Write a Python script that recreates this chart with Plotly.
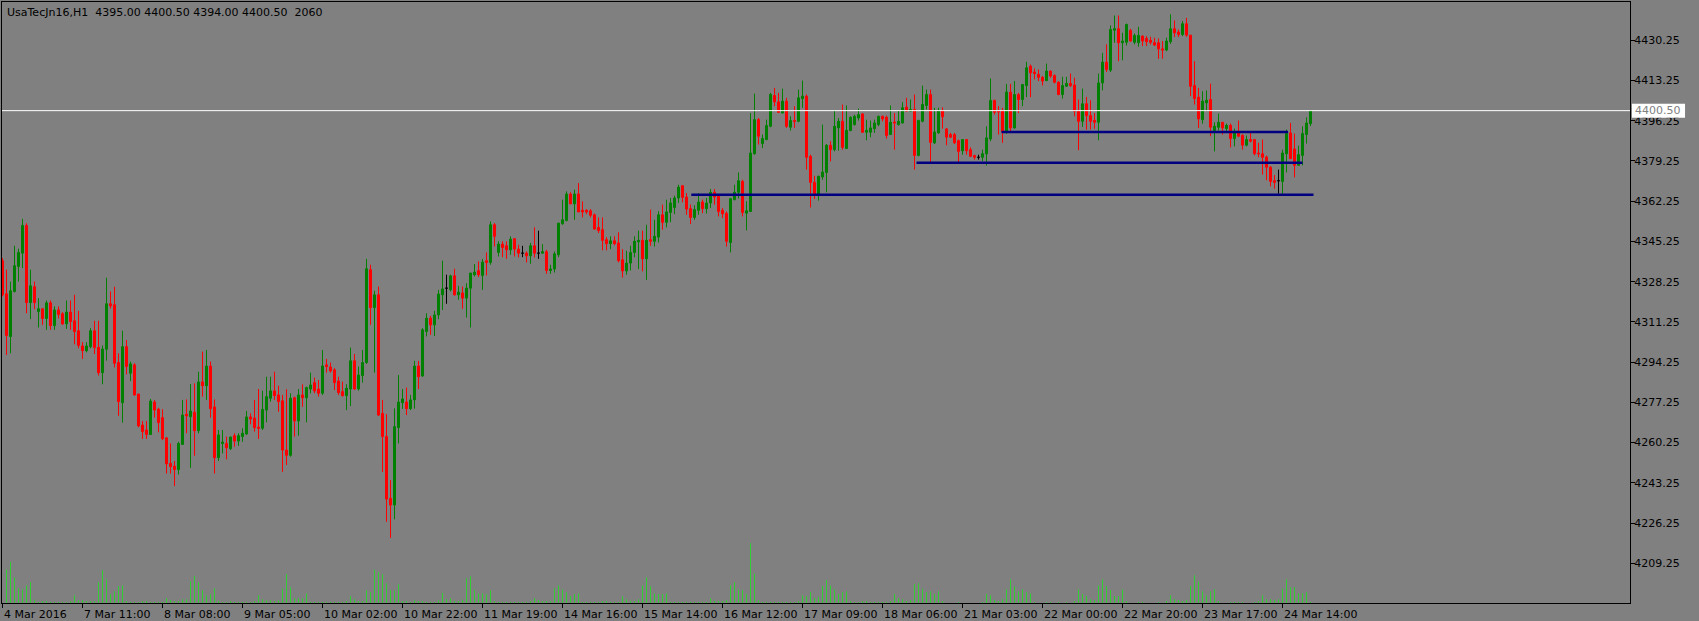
import plotly.graph_objects as go

symbol = "UsaTecJn16,H1"
last_tick_volume = "2060"

open_ = [
    4337.1, 4323.1, 4305.1, 4324.1, 4334.7, 4340.3, 4352.0, 4319.4, 4326.1, 4315.6,
    4316.8, 4312.7, 4319.3, 4309.7, 4316.3, 4314.7, 4310.4, 4315.4, 4311.7, 4307.5,
    4301.1, 4299.1, 4300.8, 4307.5, 4300.5, 4289.8, 4299.7, 4318.9, 4318.5, 4294.1,
    4277.1, 4300.8, 4289.6, 4293.1, 4280.8, 4267.7, 4265.6, 4263.7, 4277.4, 4274.4,
    4270.8, 4262.3, 4251.5, 4250.3, 4248.9, 4259.5, 4272.2, 4271.2, 4273.1, 4265.3,
    4285.9, 4284.3, 4292.6, 4275.3, 4253.9, 4259.9, 4259.9, 4257.7, 4263.2, 4260.9,
    4262.8, 4263.9, 4271.1, 4270.6, 4266.8, 4266.3, 4274.0, 4279.0, 4282.1, 4280.4,
    4277.9, 4257.1, 4254.9, 4279.2, 4269.4, 4280.4, 4279.2, 4282.9, 4285.6, 4282.9,
    4281.1, 4293.1, 4292.2, 4291.0, 4286.3, 4281.8, 4280.1, 4282.9, 4294.8, 4282.9,
    4288.6, 4294.1, 4333.3, 4317.3, 4322.7, 4272.6, 4262.8, 4236.7, 4233.9, 4266.6,
    4277.1, 4277.4, 4274.6, 4278.3, 4292.6, 4288.4, 4307.2, 4312.8, 4310.0, 4314.2,
    4322.7, 4325.5, 4324.8, 4330.7, 4322.7, 4323.5, 4321.3, 4325.5, 4331.2, 4332.9,
    4330.9, 4337.1, 4336.4, 4352.3, 4340.6, 4344.1, 4343.4, 4341.7, 4346.4, 4342.0,
    4340.3, 4340.3, 4339.2, 4343.4, 4340.3, 4340.3, 4340.9, 4333.0, 4333.6, 4339.6,
    4352.7, 4354.1, 4365.3, 4361.1, 4365.3, 4358.4, 4358.4, 4358.2, 4356.5, 4351.2,
    4350.2, 4346.0, 4344.3, 4345.5, 4344.6, 4337.5, 4332.8, 4336.1, 4340.6, 4345.1,
    4345.7, 4337.9, 4346.0, 4345.3, 4347.1, 4356.5, 4353.3, 4357.5, 4359.6, 4363.6,
    4368.8, 4364.0, 4359.1, 4355.4, 4358.4, 4361.9, 4359.1, 4361.5, 4366.0, 4364.3,
    4358.4, 4357.1, 4344.8, 4362.9, 4366.0, 4370.6, 4357.2, 4357.9, 4382.3, 4396.7,
    4386.6, 4388.3, 4393.9, 4406.9, 4404.2, 4399.5, 4404.5, 4393.5, 4396.3, 4396.0,
    4405.6, 4406.6, 4381.2, 4370.2, 4365.3, 4372.5, 4374.4, 4385.9, 4384.0, 4393.2,
    4396.0, 4384.5, 4392.1, 4394.6, 4397.4, 4399.1, 4391.4, 4391.4, 4392.9, 4394.6,
    4398.1, 4397.7, 4390.4, 4395.7, 4394.6, 4395.3, 4402.0, 4400.3, 4401.0, 4381.6,
    4396.0, 4402.7, 4407.3, 4386.9, 4391.1, 4400.5, 4392.8, 4390.4, 4390.4, 4387.8,
    4383.6, 4388.3, 4384.0, 4381.5, 4380.8, 4380.8, 4382.2, 4388.5, 4404.8, 4400.3,
    4400.5, 4391.5, 4408.3, 4393.2, 4407.3, 4405.2, 4411.1, 4419.3, 4416.8, 4415.8,
    4414.6, 4413.2, 4417.2, 4415.3, 4412.5, 4407.3, 4410.8, 4412.0, 4411.3, 4400.3,
    4396.0, 4403.4, 4398.4, 4396.4, 4395.6, 4412.2, 4421.0, 4417.6, 4434.5, 4435.1,
    4429.2, 4429.4, 4434.4, 4429.4, 4429.2, 4432.0, 4431.0, 4430.2, 4429.2, 4429.2,
    4426.6, 4426.1, 4429.6, 4435.1, 4433.7, 4432.7, 4437.2, 4432.4, 4411.1, 4406.2,
    4396.7, 4403.8, 4405.2, 4392.1, 4393.5, 4395.6, 4392.9, 4394.3, 4388.7, 4391.4,
    4390.1, 4385.9, 4388.3, 4388.3, 4382.6, 4382.3, 4380.9, 4376.6, 4370.9, 4370.9,
    4370.6, 4382.3, 4391.1, 4384.3, 4377.4, 4381.6, 4390.4, 4395.0,
]

high = [
    4338.2, 4333.3, 4328.3, 4343.4, 4342.2, 4354.8, 4352.9, 4333.3, 4328.3, 4321.3,
    4316.8, 4320.3, 4320.3, 4317.8, 4317.8, 4315.4, 4320.3, 4320.3, 4322.7, 4315.9,
    4302.7, 4302.7, 4308.6, 4311.7, 4311.7, 4301.3, 4329.9, 4324.1, 4326.1, 4298.0,
    4307.5, 4303.6, 4294.5, 4293.8, 4280.8, 4269.4, 4269.4, 4278.7, 4278.3, 4275.0,
    4274.4, 4262.3, 4259.9, 4252.5, 4260.6, 4278.3, 4278.5, 4285.0, 4285.3, 4290.2,
    4298.7, 4299.4, 4294.5, 4278.5, 4265.6, 4265.6, 4262.8, 4262.8, 4264.2, 4264.2,
    4266.3, 4273.6, 4272.6, 4278.3, 4282.9, 4282.2, 4288.1, 4288.1, 4290.2, 4284.3,
    4280.4, 4282.8, 4281.1, 4279.7, 4282.9, 4284.9, 4283.9, 4289.8, 4287.7, 4286.7,
    4299.4, 4295.6, 4294.1, 4291.7, 4288.1, 4286.0, 4284.9, 4300.4, 4297.7, 4292.4,
    4299.4, 4337.9, 4335.4, 4324.4, 4326.2, 4278.3, 4272.3, 4244.4, 4274.7, 4288.8,
    4282.9, 4283.5, 4280.4, 4294.8, 4294.8, 4308.6, 4314.9, 4313.8, 4315.9, 4324.8,
    4337.1, 4331.2, 4331.2, 4333.7, 4326.5, 4326.2, 4327.6, 4331.9, 4335.7, 4336.8,
    4337.8, 4340.6, 4353.7, 4353.0, 4345.3, 4345.3, 4345.3, 4347.4, 4346.7, 4343.8,
    4343.4, 4341.0, 4344.6, 4351.2, 4349.8, 4344.1, 4341.7, 4335.4, 4341.0, 4353.0,
    4362.9, 4366.4, 4366.0, 4367.1, 4369.9, 4362.2, 4358.9, 4358.9, 4357.0, 4355.4,
    4355.4, 4347.1, 4347.4, 4347.4, 4349.1, 4342.0, 4341.3, 4343.4, 4347.4, 4349.8,
    4349.8, 4352.3, 4358.7, 4354.4, 4358.0, 4360.8, 4362.9, 4363.6, 4364.6, 4369.2,
    4368.8, 4365.7, 4360.8, 4360.5, 4365.7, 4362.9, 4363.6, 4367.4, 4367.4, 4365.0,
    4359.4, 4357.9, 4363.6, 4369.2, 4374.4, 4371.3, 4362.2, 4399.5, 4407.7, 4397.4,
    4390.4, 4396.7, 4408.0, 4410.1, 4408.0, 4409.8, 4405.9, 4398.1, 4402.4, 4409.4,
    4413.2, 4407.3, 4381.9, 4373.0, 4373.0, 4394.6, 4386.4, 4387.6, 4400.5, 4397.4,
    4403.1, 4402.7, 4398.1, 4398.8, 4401.4, 4399.5, 4396.7, 4396.3, 4396.7, 4398.4,
    4398.4, 4398.4, 4402.7, 4399.5, 4400.5, 4404.1, 4405.9, 4405.2, 4407.3, 4396.7,
    4411.1, 4409.4, 4409.4, 4401.7, 4401.7, 4401.9, 4393.2, 4391.1, 4391.1, 4388.3,
    4388.5, 4388.5, 4385.0, 4381.9, 4381.9, 4384.0, 4393.9, 4414.1, 4405.2, 4402.4,
    4401.7, 4411.8, 4411.8, 4413.0, 4408.0, 4411.8, 4421.1, 4420.0, 4418.3, 4417.9,
    4415.1, 4420.4, 4417.5, 4415.8, 4412.9, 4414.8, 4414.8, 4416.2, 4414.4, 4405.2,
    4409.8, 4406.3, 4404.9, 4399.5, 4416.2, 4424.9, 4428.5, 4436.5, 4440.7, 4440.7,
    4433.4, 4437.3, 4435.1, 4433.1, 4435.9, 4432.3, 4432.0, 4431.7, 4431.3, 4431.0,
    4429.9, 4431.3, 4441.2, 4438.6, 4434.8, 4438.3, 4439.7, 4432.4, 4421.4, 4410.1,
    4408.7, 4409.0, 4411.9, 4395.6, 4399.3, 4395.6, 4395.0, 4395.0, 4392.9, 4396.3,
    4390.4, 4390.0, 4391.4, 4388.5, 4386.9, 4388.3, 4381.5, 4377.0, 4373.3, 4375.6,
    4384.0, 4392.5, 4395.3, 4390.8, 4385.7, 4393.9, 4397.7, 4400.5,
]

low = [
    4322.0, 4297.3, 4298.0, 4323.7, 4328.3, 4334.0, 4314.9, 4312.4, 4316.6, 4308.9,
    4310.0, 4307.9, 4307.9, 4307.9, 4312.7, 4310.0, 4308.3, 4307.9, 4301.8, 4300.1,
    4295.6, 4298.4, 4300.1, 4297.7, 4288.6, 4284.9, 4294.9, 4316.9, 4292.0, 4271.6,
    4268.7, 4289.1, 4286.3, 4280.0, 4266.7, 4261.8, 4261.8, 4263.5, 4270.8, 4264.6,
    4261.3, 4247.2, 4247.2, 4241.9, 4246.8, 4259.5, 4264.2, 4249.6, 4254.7, 4264.2,
    4279.7, 4278.3, 4270.8, 4247.2, 4252.5, 4255.7, 4253.2, 4257.1, 4258.5, 4258.9,
    4260.6, 4263.5, 4268.0, 4264.9, 4261.8, 4265.6, 4268.8, 4277.6, 4278.3, 4273.3,
    4247.9, 4250.8, 4254.3, 4262.8, 4263.2, 4275.4, 4268.8, 4281.1, 4281.1, 4279.7,
    4280.4, 4289.8, 4289.8, 4282.5, 4280.4, 4279.7, 4274.0, 4275.7, 4282.5, 4282.2,
    4285.6, 4293.5, 4310.0, 4289.8, 4271.5, 4247.9, 4226.8, 4220.0, 4227.9, 4259.9,
    4274.5, 4271.9, 4274.0, 4274.6, 4282.9, 4288.1, 4305.1, 4305.8, 4305.3, 4312.4,
    4316.3, 4318.9, 4324.1, 4322.3, 4320.6, 4316.8, 4313.1, 4308.9, 4330.5, 4330.2,
    4324.8, 4330.9, 4335.4, 4343.1, 4338.9, 4338.6, 4337.9, 4339.6, 4338.9, 4338.5,
    4338.6, 4336.4, 4335.8, 4338.5, 4337.9, 4340.0, 4331.6, 4331.6, 4332.1, 4338.6,
    4352.3, 4353.7, 4361.1, 4354.4, 4357.7, 4355.4, 4356.8, 4355.4, 4350.2, 4348.8,
    4341.5, 4341.5, 4342.0, 4343.6, 4336.4, 4330.0, 4331.2, 4333.0, 4338.6, 4333.6,
    4332.6, 4329.0, 4343.4, 4343.1, 4344.8, 4350.2, 4351.2, 4353.4, 4356.8, 4361.5,
    4361.8, 4356.5, 4352.6, 4354.4, 4356.5, 4357.2, 4357.0, 4359.4, 4360.8, 4355.8,
    4355.1, 4343.1, 4340.6, 4362.6, 4363.4, 4355.8, 4349.9, 4357.9, 4381.9, 4386.2,
    4384.7, 4388.0, 4393.5, 4402.4, 4399.5, 4399.3, 4393.2, 4392.1, 4393.2, 4395.6,
    4401.7, 4375.6, 4359.6, 4363.2, 4362.5, 4371.3, 4366.0, 4379.1, 4383.3, 4383.6,
    4384.0, 4384.3, 4391.8, 4394.2, 4396.3, 4391.1, 4388.0, 4389.3, 4391.1, 4393.9,
    4396.0, 4388.7, 4390.4, 4384.0, 4394.2, 4395.0, 4400.3, 4400.0, 4375.6, 4381.2,
    4395.6, 4401.0, 4378.8, 4386.4, 4390.7, 4392.9, 4385.9, 4389.0, 4386.4, 4378.8,
    4381.9, 4381.9, 4380.9, 4379.8, 4379.8, 4379.2, 4377.3, 4387.6, 4398.8, 4390.4,
    4386.9, 4390.7, 4391.8, 4392.9, 4399.5, 4402.4, 4406.2, 4406.2, 4413.7, 4413.0,
    4411.1, 4413.0, 4414.4, 4412.0, 4407.0, 4405.6, 4410.5, 4410.5, 4398.1, 4383.8,
    4393.6, 4392.5, 4392.5, 4392.8, 4388.0, 4409.1, 4416.8, 4416.8, 4429.2, 4421.4,
    4421.8, 4428.0, 4429.6, 4428.5, 4427.5, 4427.8, 4427.8, 4428.5, 4427.8, 4422.4,
    4422.5, 4425.6, 4428.7, 4431.6, 4431.6, 4432.0, 4431.7, 4406.6, 4403.1, 4393.2,
    4395.0, 4400.3, 4389.7, 4383.3, 4392.1, 4390.4, 4391.8, 4385.0, 4385.4, 4389.3,
    4384.0, 4385.4, 4387.1, 4381.6, 4380.8, 4373.5, 4371.1, 4368.5, 4367.5, 4365.4,
    4365.4, 4374.4, 4380.2, 4372.3, 4377.3, 4377.4, 4386.6, 4394.0,
]

close = [
    4322.7, 4305.5, 4324.4, 4335.0, 4340.6, 4352.0, 4319.4, 4326.5, 4319.4, 4316.8,
    4312.7, 4319.3, 4309.7, 4316.3, 4314.4, 4310.4, 4315.4, 4311.4, 4307.2, 4301.3,
    4299.1, 4301.1, 4307.5, 4300.4, 4289.8, 4299.8, 4318.9, 4318.0, 4293.8, 4277.6,
    4300.8, 4292.4, 4293.5, 4280.4, 4267.3, 4264.9, 4263.7, 4277.8, 4274.0, 4268.7,
    4261.9, 4251.3, 4250.1, 4248.9, 4259.9, 4271.9, 4271.6, 4273.6, 4265.3, 4285.9,
    4284.3, 4292.6, 4274.6, 4253.9, 4263.5, 4260.5, 4258.1, 4262.6, 4260.9, 4263.2,
    4264.2, 4271.1, 4270.2, 4266.6, 4266.3, 4274.3, 4279.7, 4282.1, 4280.1, 4277.6,
    4257.1, 4254.9, 4279.0, 4269.4, 4280.4, 4279.2, 4283.5, 4284.6, 4282.1, 4281.1,
    4292.6, 4292.4, 4290.5, 4285.6, 4281.4, 4280.1, 4283.2, 4294.8, 4282.9, 4288.8,
    4294.1, 4333.7, 4317.3, 4322.7, 4271.9, 4262.8, 4236.4, 4233.9, 4267.0, 4277.4,
    4278.7, 4274.6, 4278.3, 4292.6, 4288.1, 4307.9, 4312.8, 4310.0, 4314.2, 4323.0,
    4325.2, 4325.5, 4330.7, 4322.7, 4323.8, 4321.3, 4325.5, 4331.9, 4332.3, 4331.2,
    4336.5, 4336.4, 4352.3, 4347.4, 4344.1, 4342.7, 4341.7, 4346.2, 4342.0, 4340.3,
    4340.3, 4339.2, 4343.4, 4340.3, 4340.3, 4340.9, 4333.0, 4333.6, 4340.0, 4353.0,
    4354.4, 4365.3, 4361.1, 4365.3, 4357.7, 4357.7, 4357.7, 4356.3, 4350.5, 4349.8,
    4345.7, 4344.3, 4345.5, 4344.3, 4337.1, 4332.8, 4336.1, 4340.6, 4345.3, 4345.7,
    4337.9, 4345.7, 4345.3, 4347.4, 4356.5, 4353.3, 4357.7, 4361.5, 4363.6, 4368.2,
    4363.9, 4358.9, 4355.4, 4358.7, 4361.9, 4359.1, 4361.5, 4366.0, 4364.0, 4357.9,
    4356.9, 4345.3, 4363.3, 4366.0, 4370.9, 4357.5, 4358.2, 4382.6, 4396.7, 4389.7,
    4388.7, 4394.2, 4407.3, 4404.2, 4399.8, 4404.5, 4393.9, 4396.3, 4396.0, 4405.9,
    4406.6, 4380.8, 4370.2, 4365.3, 4372.8, 4374.6, 4385.9, 4384.0, 4393.9, 4396.0,
    4385.0, 4392.2, 4397.7, 4398.1, 4398.8, 4391.4, 4392.2, 4393.2, 4395.3, 4398.1,
    4397.0, 4390.0, 4395.6, 4395.3, 4396.0, 4401.7, 4400.3, 4401.0, 4381.6, 4396.3,
    4403.1, 4407.3, 4387.1, 4391.5, 4400.5, 4397.9, 4389.3, 4389.3, 4386.9, 4383.3,
    4388.3, 4383.6, 4381.2, 4380.8, 4380.8, 4382.3, 4389.0, 4404.8, 4399.8, 4400.0,
    4391.5, 4408.4, 4393.2, 4407.3, 4405.2, 4411.5, 4418.6, 4416.5, 4416.2, 4414.6,
    4413.0, 4417.2, 4415.1, 4412.5, 4407.3, 4411.1, 4412.0, 4411.1, 4400.3, 4396.0,
    4403.4, 4398.4, 4396.0, 4395.6, 4412.2, 4421.0, 4417.9, 4434.8, 4435.1, 4429.2,
    4429.9, 4436.9, 4429.9, 4432.3, 4432.3, 4429.9, 4429.6, 4429.4, 4428.2, 4426.6,
    4426.1, 4429.9, 4435.1, 4433.4, 4432.7, 4437.2, 4432.4, 4410.8, 4405.6, 4397.0,
    4404.5, 4404.9, 4393.5, 4393.9, 4395.6, 4393.2, 4394.3, 4388.7, 4391.1, 4389.7,
    4385.9, 4388.3, 4387.6, 4382.3, 4382.3, 4380.8, 4376.6, 4370.6, 4370.2, 4370.9,
    4382.6, 4390.8, 4380.2, 4377.4, 4381.9, 4390.8, 4395.3, 4400.5,
]

# tick volume (relative units as read from the volume strip)
volume = [
    0, 101, 123, 77, 44, 41, 53, 63, 10, 3,
    4, 4, 3, 3, 1, 3, 3, 5, 23, 8,
    9, 5, 5, 6, 63, 98, 71, 27, 35, 51,
    53, 5, 1, 3, 3, 5, 4, 1, 3, 3,
    3, 15, 9, 6, 5, 11, 11, 66, 81, 63,
    38, 23, 27, 44, 7, 1, 3, 4, 3, 3,
    3, 3, 3, 5, 23, 11, 8, 8, 6, 8,
    43, 87, 47, 14, 14, 14, 29, 2, 3, 3,
    3, 3, 3, 3, 3, 3, 5, 21, 11, 6,
    5, 38, 32, 100, 93, 86, 59, 39, 38, 56,
    4, 4, 2, 8, 4, 4, 3, 3, 3, 8,
    31, 11, 14, 7, 4, 10, 74, 80, 40, 29,
    29, 26, 38, 4, 1, 3, 3, 1, 1, 1,
    3, 1, 5, 15, 9, 5, 5, 6, 44, 53,
    41, 32, 21, 27, 29, 3, 1, 1, 3, 1,
    5, 4, 3, 1, 3, 20, 11, 7, 6, 11,
    53, 77, 50, 29, 27, 27, 29, 3, 1, 3,
    3, 3, 3, 1, 3, 1, 3, 14, 7, 5,
    6, 9, 54, 63, 41, 39, 27, 179, 89, 8,
    1, 3, 3, 3, 3, 3, 3, 3, 1, 5,
    23, 21, 33, 15, 19, 51, 69, 53, 41, 27,
    33, 35, 5, 1, 1, 5, 5, 3, 1, 1,
    3, 3, 5, 27, 15, 11, 5, 9, 57, 59,
    43, 33, 35, 27, 35, 5, 0, 0, 0, 3,
    0, 0, 0, 0, 0, 3, 27, 23, 9, 5,
    11, 41, 71, 50, 35, 41, 33, 29, 3, 0,
    0, 3, 3, 0, 3, 0, 3, 0, 5, 41,
    27, 21, 11, 9, 53, 71, 51, 39, 21, 21,
    41, 5, 0, 0, 3, 3, 0, 0, 0, 3,
    0, 5, 23, 11, 9, 5, 9, 51, 83, 65,
    35, 23, 35, 41, 5, 0, 0, 3, 3, 3,
    3, 0, 0, 3, 5, 23, 11, 11, 9, 11,
    43, 71, 47, 47, 29, 29, 33, 3,
]

time_tick_bars = [0, 20, 40, 60, 80, 100, 120, 140, 160, 180, 200, 220, 240, 260, 280, 300, 320]
time_tick_labels = [
    "4 Mar 2016", "7 Mar 11:00", "8 Mar 08:00", "9 Mar 05:00", "10 Mar 02:00",
    "10 Mar 22:00", "11 Mar 19:00", "14 Mar 16:00", "15 Mar 14:00", "16 Mar 12:00",
    "17 Mar 09:00", "18 Mar 06:00", "21 Mar 03:00", "22 Mar 00:00", "22 Mar 20:00",
    "23 Mar 17:00", "24 Mar 14:00",
]

price_ticks = [4209.25, 4226.25, 4243.25, 4260.25, 4277.25, 4294.25, 4311.25,
               4328.25, 4345.25, 4362.25, 4379.25, 4396.25, 4413.25, 4430.25]

# user-drawn horizontal support lines (price, start bar, end bar)
level_prices = [4365.0, 4378.5, 4391.5]
level_start = [172.2, 228.5, 249.75]
level_end = [327.75, 325.0, 321.4]

n = len(close)
xs = list(range(n))
normal = [i for i in xs if open_[i] != close[i]]
doji = [i for i in xs if open_[i] == close[i]]


def pick(arr, idx):
    return [arr[i] for i in idx]


fig = go.Figure()

fig.add_trace(go.Bar(
    x=xs, y=volume, yaxis="y2", width=0.25, offset=-0.125,
    marker=dict(color="#32CD32", line=dict(width=0)),
    hoverinfo="skip", showlegend=False,
))

fig.add_trace(go.Candlestick(
    x=pick(xs, normal), open=pick(open_, normal), high=pick(high, normal),
    low=pick(low, normal), close=pick(close, normal),
    increasing=dict(line=dict(color="#008000", width=1), fillcolor="#008000"),
    decreasing=dict(line=dict(color="#FF0000", width=1), fillcolor="#FF0000"),
    whiskerwidth=0, hoverinfo="skip", showlegend=False,
))

fig.add_trace(go.Candlestick(
    x=pick(xs, doji), open=pick(open_, doji), high=pick(high, doji),
    low=pick(low, doji), close=pick(close, doji),
    increasing=dict(line=dict(color="#000000", width=1), fillcolor="#000000"),
    decreasing=dict(line=dict(color="#000000", width=1), fillcolor="#000000"),
    whiskerwidth=0, hoverinfo="skip", showlegend=False,
))

shapes = []
# current price line
shapes.append(dict(type="line", xref="paper", x0=0, x1=1, yref="y",
                   y0=close[-1], y1=close[-1], line=dict(color="#FFFFFF", width=1), layer="above"))
for p, a, b in zip(level_prices, level_start, level_end):
    shapes.append(dict(type="line", xref="x", x0=a, x1=b, yref="y", y0=p, y1=p,
                       line=dict(color="#000080", width=2.5), layer="above"))
# price label box on the axis
shapes.append(dict(type="rect", xref="paper", x0=1.0012, x1=1.0338, yref="y",
                   y0=close[-1] - 2.95, y1=close[-1] + 2.95,
                   fillcolor="#FFFFFF", line=dict(width=0), layer="above"))

annotations = []
nb = "\u00a0"
header = (f"{symbol}{nb}{nb}{open_[-1]:.2f} {high[-1]:.2f} {low[-1]:.2f} {close[-1]:.2f}"
          f"{nb}{nb}{last_tick_volume}")
annotations.append(dict(text=header, xref="paper", yref="paper", x=0, y=1,
                        xanchor="left", yanchor="middle", xshift=3, yshift=-10,
                        showarrow=False, font=dict(color="#000000", size=11)))
for b, t in zip(time_tick_bars, time_tick_labels):
    annotations.append(dict(text=t, xref="x", yref="paper", x=b, y=0,
                            xanchor="left", yanchor="middle", xshift=-1, yshift=-11.5,
                            showarrow=False, font=dict(color="#000000", size=11)))
annotations.append(dict(text=f"{close[-1]:.2f}", xref="paper", yref="y", x=1.0175, y=close[-1],
                        xanchor="center", yanchor="middle", showarrow=False,
                        font=dict(color="#808080", size=11)))

fig.update_layout(
    width=1699, height=621,
    margin=dict(l=2, r=69, t=2, b=18, pad=0, autoexpand=False),
    paper_bgcolor="#808080", plot_bgcolor="#808080",
    font=dict(family="DejaVu Sans", size=11, color="#000000"),
    showlegend=False,
    boxgap=0.5, boxgroupgap=0,
    xaxis=dict(range=[-0.125, 406.875], tickvals=time_tick_bars, ticks="outside", ticklen=4,
               tickcolor="#000000", tickwidth=1, showticklabels=False,
               showline=True, linecolor="#000000", linewidth=1, mirror=True,
               showgrid=False, zeroline=False, rangeslider=dict(visible=False)),
    yaxis=dict(side="right", range=[4192.5, 4446.4], tickvals=price_ticks,
               ticktext=[f"{v:.2f}" for v in price_ticks], ticks="outside", ticklen=4,
               tickcolor="#000000", tickwidth=1, showline=True, linecolor="#000000",
               linewidth=1, mirror=True, showgrid=False, zeroline=False,
               ticklabelstandoff=-3,
               tickfont=dict(color="#000000", size=11)),
    yaxis2=dict(overlaying="y", range=[0, 1803], visible=False),
    shapes=shapes,
    annotations=annotations,
)

fig.write_html("out.html", config={"displayModeBar": False},
               post_script="document.body.style.margin='0';document.body.style.overflow='hidden';")
